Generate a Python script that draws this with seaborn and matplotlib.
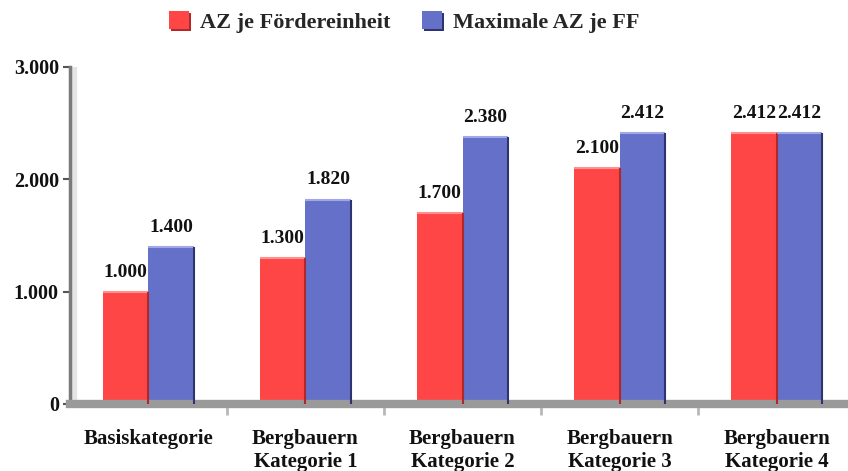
import pandas as pd
import seaborn as sns
from matplotlib import pyplot as plt
from matplotlib.ticker import FuncFormatter
import matplotlib.patheffects as pe

categories = ['Basiskategorie', 'Bergbauern\nKategorie 1', 'Bergbauern\nKategorie 2',
              'Bergbauern\nKategorie 3', 'Bergbauern\nKategorie 4']
series = ['AZ je Fördereinheit', 'Maximale AZ je FF']
az_je_fe = [1000, 1300, 1700, 2100, 2412]
max_az_ff = [1400, 1820, 2380, 2412, 2412]
yticks = [0, 1000, 2000, 3000]

colors = ['#FF4646', '#6570C8']
edge_dark = ['#B02828', '#2E3470']
edge_light = ['#FF9090', '#A0A8E8']

sns.set_theme(style='white')
plt.rcParams['font.family'] = ['Liberation Serif', 'DejaVu Serif']
plt.rcParams['font.weight'] = 'bold'


def de_format(v, pos=None):
    return '{:,.0f}'.format(v).replace(',', '.')


df = pd.DataFrame({
    'Kategorie': categories * 2,
    'Serie': [series[0]] * len(categories) + [series[1]] * len(categories),
    'Wert': az_je_fe + max_az_ff,
})

fig = plt.figure(figsize=(8.48, 4.71), dpi=100)
ax = fig.add_axes([0.0825, 0.1423, 0.9175, 0.7155])

sns.barplot(data=df, x='Kategorie', y='Wert', hue='Serie', palette=colors,
            width=0.58, saturation=1, ax=ax, linewidth=0)

ax.set_xlim(-0.5, 4.455)
ax.set_ylim(0, 3000)
ax.set_yticks(yticks)
ax.yaxis.set_major_formatter(FuncFormatter(de_format))
ax.set_xlabel('')
ax.set_ylabel('')

# Fake 3D edges: light top, dark right side, derived from the bars themselves.
for i, container in enumerate(ax.containers):
    for bar in container:
        x0, w, h = bar.get_x(), bar.get_width(), bar.get_height()
        ax.plot([x0, x0 + w], [h, h], color=edge_light[i], lw=1.5,
                solid_capstyle='butt', zorder=3)
        ax.plot([x0 + w, x0 + w], [0, h], color=edge_dark[i], lw=1.5,
                solid_capstyle='butt', zorder=3)
    ax.bar_label(container, labels=[de_format(v) for v in container.datavalues],
                 padding=8, fontsize=14, fontweight='bold', color='#111111')

# Wall and floor
ax.axvspan(-0.5, -0.5 + 6 / 157, color='#E4E4E4', zorder=0)
for side in ['top', 'right']:
    ax.spines[side].set_visible(False)
ax.spines['left'].set_color('#7A7A7A')
ax.spines['left'].set_linewidth(2.5)
ax.spines['bottom'].set_color('#9A9A9A')
ax.spines['bottom'].set_linewidth(6)

ax.tick_params(axis='y', which='major', left=True, length=5, width=1.5,
               color='#555555', labelsize=14.5, pad=3, labelcolor='#111111')
ax.tick_params(axis='x', which='major', bottom=False, labelsize=15, pad=12,
               labelcolor='#111111')
ax.set_xticks([0.5, 1.5, 2.5, 3.5], minor=True)
ax.tick_params(axis='x', which='minor', bottom=True, length=8, width=2,
               color='#B8B8B8', direction='out')
for lbl in ax.get_xticklabels() + ax.get_yticklabels():
    lbl.set_fontweight('bold')

leg = ax.legend(loc='center', bbox_to_anchor=(0.43, 1.134), ncol=2, frameon=False,
                handlelength=0.9, handleheight=0.9, columnspacing=1.4,
                handletextpad=0.5, prop={'weight': 'bold', 'size': 16})
for i, h in enumerate(leg.legend_handles):
    h.set_path_effects([pe.SimplePatchShadow(offset=(1.5, -1.5), shadow_rgbFace=edge_dark[i],
                                             alpha=1), pe.Normal()])

fig.savefig('out.png', dpi=100)
